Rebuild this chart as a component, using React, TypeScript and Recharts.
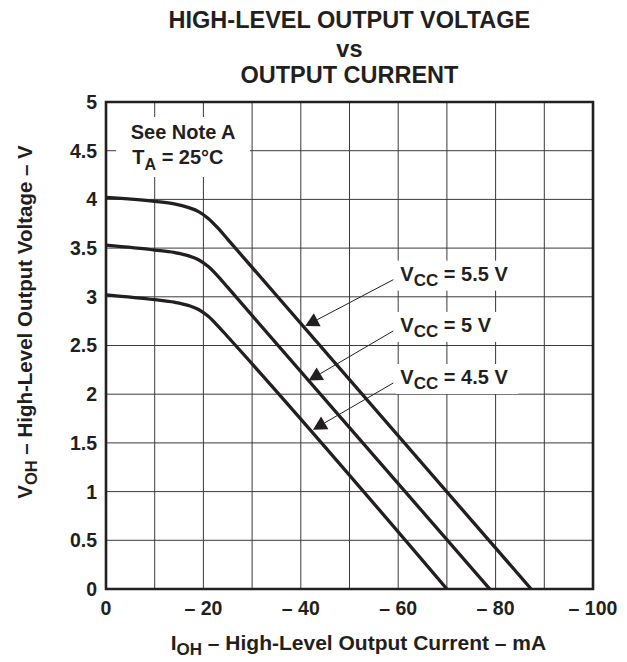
import React from 'react';
import { LineChart, Line, XAxis, YAxis, CartesianGrid, ReferenceArea, ReferenceLine } from 'recharts';

const FONT = '"Liberation Sans", Arial, Helvetica, sans-serif';
const INK = '#231f20';

// Axis ticks
const xTicks = [0, -10, -20, -30, -40, -50, -60, -70, -80, -90, -100];
const yTicks = [0, 0.5, 1, 1.5, 2, 2.5, 3, 3.5, 4, 4.5, 5];

// VCC = 5.5 V
const iOH_55 = [0, -10, -14, -17, -19, -21, -23, -25, -87.3];
const vOH_55 = [4.02, 3.98, 3.955, 3.915, 3.875, 3.805, 3.705, 3.59, 0];
// VCC = 5 V
const iOH_50 = [0, -10, -14, -17, -19, -21, -23, -25, -78.8];
const vOH_50 = [3.53, 3.48, 3.455, 3.42, 3.38, 3.31, 3.21, 3.096, 0];
// VCC = 4.5 V
const iOH_45 = [0, -10, -14, -17, -19, -21, -23, -25, -70];
const vOH_45 = [3.02, 2.97, 2.945, 2.91, 2.87, 2.8, 2.7, 2.59, 0];

// Curve annotations (arrow from label to curve, in data units)
const seriesLabels = ['5.5 V', '5 V', '4.5 V'];
const arrowFromI = [-59, -59, -59];
const arrowFromV = [3.176, 2.65, 2.115];
const arrowToI = [-40.9, -41.6, -42.5];
const arrowToV = [2.7, 2.14, 1.636];

const toRows = (is: number[], vs: number[]) => is.map((i, k) => ({ i, v: vs[k] }));
const series = [toRows(iOH_55, vOH_55), toRows(iOH_50, vOH_50), toRows(iOH_45, vOH_45)];

const xFmt = (v: number) => (v === 0 ? '0' : v % 20 === 0 ? `\u2013 ${Math.abs(v)}` : '');

function makeArrowShape(label: string) {
  return (p: any) => {
    const x1 = Number(p.x1), y1 = Number(p.y1), x2 = Number(p.x2), y2 = Number(p.y2);
    const ang = Math.atan2(y2 - y1, x2 - x1);
    const L = 13.6, W = 7.3;
    const bx = x2 - L * Math.cos(ang);
    const by = y2 - L * Math.sin(ang);
    const px = -Math.sin(ang) * W;
    const py = Math.cos(ang) * W;
    return (
      <g>
        <rect x={x1 + 3} y={y1 - 19} width={122} height={30} fill="#fff" />
        <line x1={x1} y1={y1} x2={bx} y2={by} stroke={INK} strokeWidth={1} />
        <polygon points={`${x2},${y2} ${bx + px},${by + py} ${bx - px},${by - py}`} fill={INK} />
        <text x={x1 + 7} y={y1 + 1} fontFamily={FONT} fontWeight={700} fontSize={20} fill={INK}>
          V<tspan dy={5} fontSize={17}>CC</tspan>
          <tspan dy={-5} fontSize={20}>{` = ${label}`}</tspan>
        </text>
      </g>
    );
  };
}

export default function App() {
  const tickStyle = { fill: INK, fontSize: 19.5, fontWeight: 700, fontFamily: FONT };
  return (
    <div style={{ position: 'absolute', left: 0, top: 0, width: 627, height: 662, background: '#fff' }}>
      <LineChart width={627} height={662} margin={{ top: 102, right: 34, left: 0, bottom: 43 }}>
        <CartesianGrid stroke="#3a3a3a" strokeWidth={1} />
        <XAxis
          type="number"
          dataKey="i"
          domain={[-100, 0]}
          reversed
          ticks={xTicks}
          interval={0}
          tickFormatter={xFmt}
          tick={tickStyle}
          tickLine={false}
          axisLine={false}
          tickSize={0}
          tickMargin={12}
          height={30}
          allowDataOverflow
        />
        <YAxis
          type="number"
          dataKey="v"
          domain={[0, 5]}
          ticks={yTicks}
          interval={0}
          tick={tickStyle}
          tickLine={false}
          axisLine={false}
          tickSize={0}
          tickMargin={9}
          width={106}
          allowDataOverflow
        />
        <ReferenceArea x1={-100} x2={0} y1={0} y2={5} fill="none" stroke={INK} strokeWidth={2.6} fillOpacity={0} ifOverflow="visible" />
        {series.map((d, k) => (
          <Line
            key={k}
            data={d}
            dataKey="v"
            type="monotone"
            stroke={INK}
            strokeWidth={3.3}
            dot={false}
            activeDot={false}
            isAnimationActive={false}
          />
        ))}
        {seriesLabels.map((lab, k) => (
          <ReferenceLine
            key={'a' + k}
            segment={[
              { x: arrowFromI[k], y: arrowFromV[k] },
              { x: arrowToI[k], y: arrowToV[k] },
            ]}
            stroke={INK}
            ifOverflow="visible"
            shape={makeArrowShape(lab)}
          />
        ))}
      </LineChart>
      <svg
        width={627}
        height={662}
        style={{ position: 'absolute', left: 0, top: 0, pointerEvents: 'none' }}
        fontFamily={FONT}
        fontWeight={700}
        fill={INK}
      >
        <text x={349.4} y={28.3} fontSize={23.5} textAnchor="middle">HIGH-LEVEL OUTPUT VOLTAGE</text>
        <text x={349.4} y={57.3} fontSize={23.5} textAnchor="middle">vs</text>
        <text x={349.4} y={83.3} fontSize={23.5} textAnchor="middle">OUTPUT CURRENT</text>

        <rect x={116} y={117} width={134} height={60} fill="#fff" />
        <text x={130.7} y={139.3} fontSize={20}>See Note A</text>
        <text x={132.3} y={164} fontSize={20}>
          T<tspan dy={6} fontSize={16}>A</tspan>
          <tspan dy={-6} fontSize={20}>{' = 25\u00B0C'}</tspan>
        </text>

        <text x={358.4} y={650} fontSize={21} textAnchor="middle">
          I<tspan dy={5} fontSize={17}>OH</tspan>
          <tspan dy={-5} fontSize={21}>{' \u2013 High-Level Output Current \u2013 mA'}</tspan>
        </text>

        <text x={0} y={0} fontSize={20.5} textAnchor="middle" transform="translate(32,322) rotate(-90)">
          V<tspan dy={5} fontSize={16.5}>OH</tspan>
          <tspan dy={-5} fontSize={20.5}>{' \u2013 High-Level Output Voltage \u2013 V'}</tspan>
        </text>
      </svg>
    </div>
  );
}
